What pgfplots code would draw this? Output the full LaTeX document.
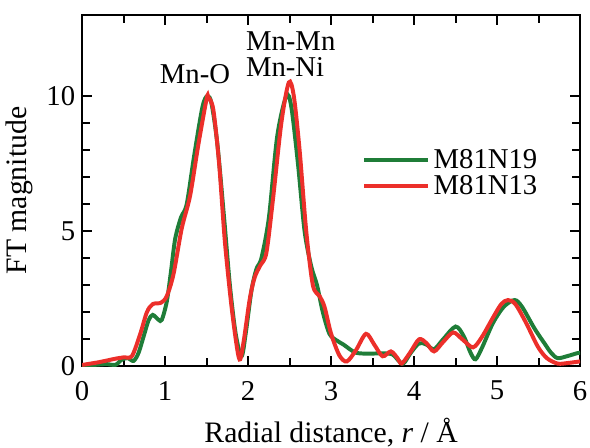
\documentclass[border=0pt]{standalone}
\usepackage{fontspec}
\setmainfont{Liberation Serif}
\usepackage{pgfplots}
\pgfplotsset{compat=1.18}
\definecolor{mgreen}{HTML}{1F7D38}
\definecolor{mred}{HTML}{EC2F2A}

\begin{document}
\begin{tikzpicture}
\begin{axis}[
  scale only axis,
  width=251.5pt, height=177.5pt,
  xmin=0, xmax=6, ymin=0, ymax=13,
  xtick={0,1,...,6}, minor x tick num=1,
  ytick={0,5,10}, minor y tick num=4,
  tick align=inside,
  major tick length=5pt, minor tick length=4pt,
  axis line style={line width=1.2pt},
  every tick/.style={black, line width=1pt},
  tick label style={font=\fontsize{14.5}{16}\selectfont},
  xticklabel style={yshift=-4pt},
  label style={font=\fontsize{15}{18}\selectfont},
  xlabel={Radial distance, \textit{r} / Å},
  xlabel style={yshift=-2pt},
  ylabel={FT magnitude},
  /pgf/number format/assume math mode=true,
  legend style={at={(0.55,0.55)}, anchor=west, draw=none, fill=none,
    font=\fontsize{14.5}{16}\selectfont, row sep=-2pt},
  legend cell align=left,
  legend image code/.code={\draw[#1, line width=2pt] (0pt,0pt) -- (32pt,0pt);},
]
\addplot[mgreen, line width=2pt, smooth, tension=0.5] coordinates {
(0.00,0.00) (0.15,0.05) (0.30,0.08) (0.40,0.05) (0.48,0.25) (0.55,0.30)
(0.62,0.20) (0.68,0.50) (0.74,1.10) (0.80,1.70) (0.85,1.90) (0.92,1.72)
(0.96,1.72) (1.02,2.40) (1.07,3.50) (1.12,4.70) (1.19,5.50) (1.26,6.00)
(1.35,7.80) (1.45,9.60) (1.51,10.0) (1.56,9.70) (1.63,8.20) (1.71,5.50)
(1.78,3.00) (1.85,1.20) (1.92,0.37) (1.97,1.20) (2.04,2.80) (2.10,3.60)
(2.16,4.00) (2.25,5.50) (2.35,8.50) (2.46,10.0) (2.52,9.60) (2.60,7.50)
(2.68,5.00) (2.76,3.70) (2.83,3.00) (2.90,2.00) (2.98,1.20) (3.07,0.95)
(3.15,0.80) (3.30,0.50) (3.50,0.47) (3.62,0.48) (3.74,0.44) (3.80,0.25)
(3.87,0.10) (3.96,0.50) (4.06,0.85) (4.15,0.80) (4.24,0.63) (4.35,1.00)
(4.50,1.47) (4.60,1.10) (4.68,0.50) (4.74,0.26) (4.82,0.70) (4.95,1.60)
(5.08,2.20) (5.21,2.45) (5.30,2.20) (5.45,1.40) (5.57,0.85) (5.65,0.50)
(5.73,0.30) (5.85,0.38) (5.96,0.48) (6.00,0.50)
};
\addlegendentry{M81N19}
\addplot[mred, line width=2pt, smooth, tension=0.5] coordinates {
(0.00,0.05) (0.20,0.15) (0.40,0.28) (0.50,0.33) (0.60,0.38) (0.70,1.20)
(0.78,2.00) (0.85,2.30) (0.95,2.35) (1.02,2.60) (1.10,3.40) (1.20,5.10)
(1.30,6.30) (1.40,8.20) (1.50,9.90) (1.52,9.95) (1.58,9.50) (1.65,7.50)
(1.72,4.60) (1.80,2.20) (1.87,0.60) (1.905,0.26) (1.95,1.00) (2.02,2.50)
(2.08,3.30) (2.15,3.75) (2.22,4.20) (2.30,6.20) (2.40,9.00) (2.49,10.5)
(2.55,10.0) (2.62,8.00) (2.70,5.00) (2.78,3.00) (2.86,2.60) (2.92,2.20)
(3.00,1.20) (3.10,0.40) (3.19,0.18) (3.30,0.60) (3.42,1.20) (3.52,0.80)
(3.62,0.37) (3.72,0.55) (3.80,0.30) (3.85,0.10) (3.95,0.50) (4.06,1.00)
(4.15,0.85) (4.24,0.55) (4.35,0.90) (4.47,1.25) (4.58,1.00) (4.71,0.70)
(4.82,1.10) (4.95,1.80) (5.05,2.30) (5.13,2.45) (5.22,2.30) (5.35,1.60)
(5.49,0.73) (5.60,0.30) (5.73,0.10) (5.85,0.12) (6.00,0.18)
};
\addlegendentry{M81N13}
\node[font=\fontsize{14.5}{16}\selectfont] at (axis cs:1.36,10.8) {Mn-O};
\node[font=\fontsize{14.5}{16}\selectfont, align=left, anchor=west, inner xsep=0pt]
  at (axis cs:1.97,11.55) {Mn-Mn\\[-3pt]Mn-Ni};
\end{axis}
\pgfresetboundingbox
\path ([shift={(-41.5pt,-41pt)}]current axis.south west)
  rectangle ([shift={(5pt,7.5pt)}]current axis.north east);
\end{tikzpicture}
\end{document}
